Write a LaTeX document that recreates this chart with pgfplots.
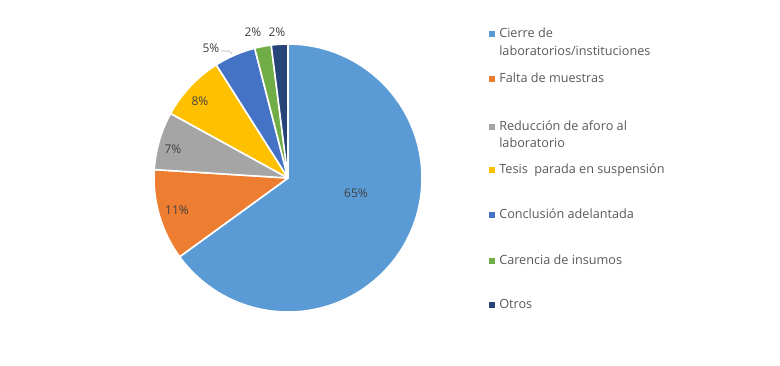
\documentclass[border=0pt]{standalone}
\usepackage{pgfplots}
\usepackage{pgfplotstable}
\pgfplotsset{compat=1.18}
\usepackage{fontspec}
\setmainfont{Open Sans}
\definecolor{s1}{HTML}{5B9BD5}
\definecolor{s2}{HTML}{ED7D31}
\definecolor{s3}{HTML}{A5A5A5}
\definecolor{s4}{HTML}{FFC000}
\definecolor{s5}{HTML}{4472C4}
\definecolor{s6}{HTML}{70AD47}
\definecolor{s7}{HTML}{264478}
\definecolor{txt}{HTML}{595959}
\definecolor{lab}{HTML}{404040}
% value, colour, label position (px from left, px from top)
\pgfplotstableread{
value color lx ly
65 s1 356 193
11 s2 177 210
7 s3 173 149
8 s4 200 101
5 s5 211 48
2 s6 253 32
2 s7 277 32
}\piedata
\begin{document}
\begin{tikzpicture}
\begin{axis}[hide axis, scale only axis, width=585pt, height=273.75pt,
  xmin=0, xmax=780, ymin=0, ymax=365, y dir=reverse, clip=false]
\pgfplotsextra{\path (axis cs:0,0) rectangle (axis cs:780,365);}
\def\cur{90}
\pgfplotsforeachungrouped \i in {0,...,6}{%
  \pgfplotstablegetelem{\i}{value}\of\piedata \let\sv=\pgfplotsretval
  \pgfplotstablegetelem{\i}{color}\of\piedata \let\scol=\pgfplotsretval
  \pgfmathsetmacro\nxt{\cur-3.6*\sv}%
  \pgfmathsetmacro\sx{288+134*cos(\cur)}%
  \pgfmathsetmacro\sy{178-134*sin(\cur)}%
  \edef\cmd{\noexpand\fill[\scol, draw=white, line width=1.2pt, line join=round] (axis cs:288,178) -- (axis cs:\sx,\sy) arc[start angle=\cur, end angle=\nxt, radius=100.5pt] -- cycle;}%
  \cmd
  \global\let\cur=\nxt
}
\pgfplotsforeachungrouped \i in {0,...,6}{%
  \pgfplotstablegetelem{\i}{value}\of\piedata \let\sv=\pgfplotsretval
  \pgfplotstablegetelem{\i}{lx}\of\piedata \let\slx=\pgfplotsretval
  \pgfplotstablegetelem{\i}{ly}\of\piedata \let\sly=\pgfplotsretval
  \edef\cmd{\noexpand\node[text=lab, font=\noexpand\fontsize{9}{11}\noexpand\selectfont] at (axis cs:\slx,\sly) {\sv\noexpand\%};}%
  \cmd
}
\draw[gray!60, line width=0.5pt] (axis cs:221,51) -- (axis cs:229,51) -- (axis cs:232,54);
% legend
\begin{scope}[every node/.style={text=txt, font=\fontsize{9.5}{11}\selectfont, anchor=base west, inner sep=0pt}]
\node at (axis cs:499,37.3) {Cierre de};
\node at (axis cs:499,55) {laboratorios/instituciones};
\node at (axis cs:499,82.7) {Falta de muestras};
\node at (axis cs:499,130) {Reducción de aforo al};
\node at (axis cs:499,147) {laboratorio};
\node at (axis cs:499,173.3) {Tesis\ \ parada en suspensión};
\node at (axis cs:499,218.3) {Conclusión adelantada};
\node at (axis cs:499,264) {Carencia de insumos};
\node at (axis cs:499,308.7) {Otros};
\end{scope}
\begin{scope}[every node/.style={minimum size=4.5pt, inner sep=0pt, draw=none}]
\node[fill=s1] at (axis cs:492,34) {};
\node[fill=s2] at (axis cs:492,79) {};
\node[fill=s3] at (axis cs:492,126.5) {};
\node[fill=s4] at (axis cs:492,170) {};
\node[fill=s5] at (axis cs:492,215) {};
\node[fill=s6] at (axis cs:492,260.5) {};
\node[fill=s7] at (axis cs:492,305) {};
\end{scope}
\end{axis}
\end{tikzpicture}
\end{document}
